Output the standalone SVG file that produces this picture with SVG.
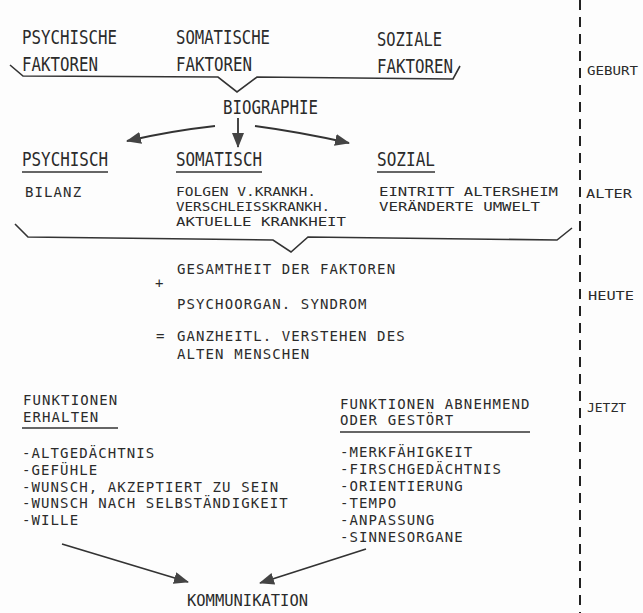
<svg xmlns="http://www.w3.org/2000/svg" width="643" height="613" viewBox="0 0 643 613">
<defs>
<style>
.t{font-family:"DejaVu Sans Mono","Liberation Mono",monospace;font-size:14px;letter-spacing:1.1px;fill:#2b2b2b}
.s{font-family:"DejaVu Sans Mono","Liberation Mono",monospace;font-size:13px;fill:#2b2b2b}
.h{font-family:"DejaVu Sans Mono","Liberation Mono",monospace;font-size:19px;fill:#2b2b2b}
.k{font-family:"DejaVu Sans Mono","Liberation Mono",monospace;font-size:16px;fill:#2b2b2b}
.ln{fill:none;stroke:#333;stroke-width:1.6;stroke-linejoin:miter}
.ul{stroke:#333;stroke-width:1.4}
.ar{fill:none;stroke:#333;stroke-width:1.8;marker-end:url(#ah)}
.dash{stroke:#222;stroke-width:2;stroke-dasharray:10 7}
</style>
<marker id="ah" markerUnits="userSpaceOnUse" markerWidth="16" markerHeight="12" refX="14" refY="6" orient="auto">
<path d="M0,0 L15,6 L0,12 Z" fill="#444"/>
</marker>
</defs>
<rect width="643" height="613" fill="#fdfdfd"/>

<g id="timeline">
<line class="dash" x1="580" y1="0" x2="580" y2="613"/>
<text id="geburt" class="s" x="587" y="75" textLength="51" lengthAdjust="spacingAndGlyphs">GEBURT</text>
<text id="alter" class="s" x="586" y="198" textLength="46" lengthAdjust="spacingAndGlyphs">ALTER</text>
<text id="heute" class="s" x="588" y="300" textLength="46" lengthAdjust="spacingAndGlyphs">HEUTE</text>
<text id="jetzt" class="s" x="587" y="412" textLength="39" lengthAdjust="spacingAndGlyphs">JETZT</text>
</g>

<g id="faktoren-psychisch">
<text class="h" x="22" y="44" textLength="95" lengthAdjust="spacingAndGlyphs">PSYCHISCHE</text>
<text class="h" x="22" y="71" textLength="76" lengthAdjust="spacingAndGlyphs">FAKTOREN</text>
</g>
<g id="faktoren-somatisch">
<text class="h" x="176" y="44" textLength="94" lengthAdjust="spacingAndGlyphs">SOMATISCHE</text>
<text class="h" x="176" y="71" textLength="76" lengthAdjust="spacingAndGlyphs">FAKTOREN</text>
</g>
<g id="faktoren-sozial">
<text class="h" x="377" y="46" textLength="65" lengthAdjust="spacingAndGlyphs">SOZIALE</text>
<text class="h" x="377" y="73" textLength="76" lengthAdjust="spacingAndGlyphs">FAKTOREN</text>
</g>

<g id="biographie">
<text class="h" x="223" y="114" textLength="95" lengthAdjust="spacingAndGlyphs">BIOGRAPHIE</text>
</g>

<g id="psychisch">
<text class="h" x="22" y="166" textLength="86" lengthAdjust="spacingAndGlyphs">PSYCHISCH</text>
<line class="ul" x1="22" y1="172" x2="108" y2="172"/>
<text class="t" x="25" y="197">BILANZ</text>
</g>
<g id="somatisch">
<text class="h" x="176" y="166" textLength="86" lengthAdjust="spacingAndGlyphs">SOMATISCH</text>
<line class="ul" x1="176" y1="172" x2="262" y2="172"/>
<text class="s" x="176" y="196" textLength="140" lengthAdjust="spacingAndGlyphs">FOLGEN V.KRANKH.</text>
<text class="s" x="176" y="211" textLength="154" lengthAdjust="spacingAndGlyphs">VERSCHLEISSKRANKH.</text>
<text class="s" x="176" y="226" textLength="170" lengthAdjust="spacingAndGlyphs">AKTUELLE KRANKHEIT</text>
</g>
<g id="sozial">
<text class="h" x="377" y="166" textLength="58" lengthAdjust="spacingAndGlyphs">SOZIAL</text>
<line class="ul" x1="377" y1="172" x2="435" y2="172"/>
<text class="s" x="379" y="196" textLength="179" lengthAdjust="spacingAndGlyphs">EINTRITT ALTERSHEIM</text>
<text class="s" x="379" y="211" textLength="161" lengthAdjust="spacingAndGlyphs">VERÄNDERTE UMWELT</text>
</g>

<g id="gesamtheit">
<text class="t" x="177" y="274">GESAMTHEIT DER FAKTOREN</text>
<text class="t" x="155" y="288">+</text>
<text class="t" x="177" y="309">PSYCHOORGAN. SYNDROM</text>
<text class="t" x="156" y="341">=</text>
<text class="t" x="177" y="341">GANZHEITL. VERSTEHEN DES</text>
<text class="t" x="177" y="359">ALTEN MENSCHEN</text>
</g>

<g id="funktionen-erhalten">
<text class="t" x="23" y="405">FUNKTIONEN</text>
<text class="t" x="23" y="422">ERHALTEN</text>
<line class="ul" x1="22" y1="428" x2="118" y2="428"/>
<text class="t" x="22" y="458">-ALTGEDÄCHTNIS</text>
<text class="t" x="22" y="475">-GEFÜHLE</text>
<text class="t" x="22" y="492">-WUNSCH, AKZEPTIERT ZU SEIN</text>
<text class="t" x="22" y="508">-WUNSCH NACH SELBSTÄNDIGKEIT</text>
<text class="t" x="22" y="525">-WILLE</text>
</g>

<g id="funktionen-gestoert">
<text class="t" x="340" y="409">FUNKTIONEN ABNEHMEND</text>
<text class="t" x="340" y="425">ODER GESTÖRT</text>
<line class="ul" x1="340" y1="432" x2="530" y2="432"/>
<text class="t" x="340" y="457">-MERKFÄHIGKEIT</text>
<text class="t" x="340" y="474">-FIRSCHGEDÄCHTNIS</text>
<text class="t" x="340" y="491">-ORIENTIERUNG</text>
<text class="t" x="340" y="508">-TEMPO</text>
<text class="t" x="340" y="525">-ANPASSUNG</text>
<text class="t" x="340" y="542">-SINNESORGANE</text>
</g>

<g id="kommunikation">
<text class="k" x="187" y="606" textLength="121" lengthAdjust="spacingAndGlyphs">KOMMUNIKATION</text>
</g>

<g id="connectors">
<path class="ln" d="M10,65 L23,76 L218,77 L237,92 L257,77 L453,79 L460,66"/>
<path class="ar" d="M215,126 Q170,131 127,141"/>
<path class="ar" d="M238,118 L238,147"/>
<path class="ar" d="M255,126 Q300,132 349,143"/>
<path class="ln" d="M15,224 L28,237 L273,240 L291,252 L308,237 L557,240 L572,228"/>
<path class="ar" d="M62,544 L188,582"/>
<path class="ar" d="M366,549 L260,583"/>
</g>
</svg>
